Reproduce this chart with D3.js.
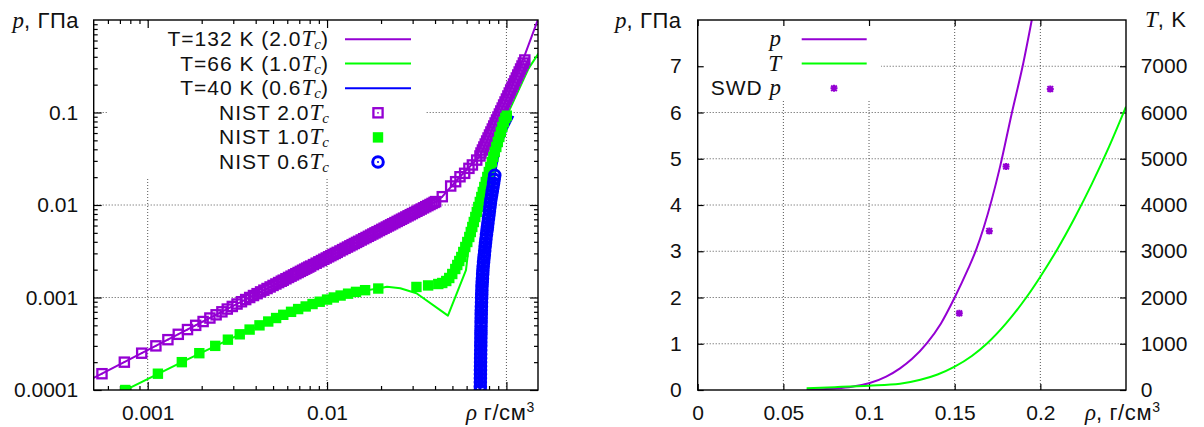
<!DOCTYPE html>
<html><head><meta charset="utf-8">
<script src="https://cdn.jsdelivr.net/npm/d3@7"></script>
<style>
body{margin:0;background:#fff}
svg{display:block}
text{font-family:"Liberation Sans",Arial,sans-serif;font-size:21px;fill:#111}
.leg{font-size:21px;letter-spacing:1px}
.mi{font-family:"Liberation Serif",serif;font-style:italic;font-size:23px;letter-spacing:0}
.sub{font-family:"Liberation Serif",serif;font-style:italic;font-size:15px;letter-spacing:0}
.sup{font-size:14px}
.ttl{font-size:22px;letter-spacing:0.6px}
</style>
</head><body><script>
// ---------------- LEFT PANEL DATA (log-log) ----------------
const xDomainLeft = [0.0005, 0.15];
const yDomainLeft = [1e-4, 1];
const xMajorLeft = [0.001, 0.01, 0.1];
const xMajorLabelsLeft = ["0.001", "0.01", ""];
const yMajorLeft = [1e-4, 1e-3, 1e-2, 1e-1];
const yMajorLabelsLeft = ["0.0001", "0.001", "0.01", "0.1"];

// model curves
const rhoModel132 = [0.0005, 0.0403, 0.0439, 0.0551, 0.0712, 0.0881, 0.1, 0.1267, 0.1496];
const pModel132   = [0.000135, 0.01088, 0.0123, 0.0202, 0.0339, 0.083, 0.14, 0.42, 1.0];
const rhoModel66 = [0.0007, 0.00155, 0.00326, 0.0052, 0.0076, 0.0109, 0.0145, 0.0193, 0.0216, 0.0256, 0.0315, 0.0472, 0.0595, 0.0629, 0.0697, 0.0813, 0.0949, 0.1005, 0.133, 0.1512];
const pModel66   = [0.0000933, 0.0002, 0.0004, 0.0006, 0.0008, 0.001, 0.00115, 0.00125, 0.00131, 0.00126, 0.00111, 0.000636, 0.00198, 0.00498, 0.0095, 0.0258, 0.0697, 0.0924, 0.30, 0.436];
const rhoModel40 = [0.0715, 0.0724, 0.0745, 0.0794, 0.0861, 0.0913, 0.0999, 0.1093];
const pModel40   = [0.00009, 0.00073, 0.0024, 0.0078, 0.021, 0.0393, 0.0647, 0.0917];

// NIST points
const rhoNist132 = [0.000556,0.000741,0.000926,0.001111,0.001296,0.001481,0.001667,0.001852,0.002037,0.002222,0.002407,0.002593,0.002778,0.002963,0.003148,0.003333,0.003519,0.003704,0.003889,0.004074,0.004259,0.004444,0.00463,0.004815,0.005,0.005185,0.00537,0.005556,
0.0057,0.0059,0.0061,0.0063,0.0065,0.0067,0.0069,0.0071,0.0073,0.0075,0.0077,0.0079,0.0081,0.0084,0.0087,0.009,0.0093,0.0096,0.0099,0.0102,0.0105,0.0108,0.0111,0.0114,0.0118,0.0122,0.0126,0.013,0.0134,0.0138,0.0142,0.0146,0.015,0.0155,0.016,0.0165,0.017,0.0175,0.018,0.0185,0.019,0.0196,0.0202,0.0208,0.0214,0.022,0.0226,0.0232,0.0239,0.0246,0.0253,0.026,0.0267,0.0275,0.0283,0.0291,0.0299,0.0308,0.0317,0.0326,0.0335,0.0345,0.0355,0.0365,0.0375,0.0385,0.0395,0.0403,
0.0439,0.0489,0.0521,0.0551,0.0585,0.0618,0.0646,0.0683,0.0712,
0.07216,0.07349,0.07484,0.0762,0.0776,0.07902,0.08047,0.08194,0.08345,0.08496,0.08652,0.0881,0.08972,0.09137,0.09305,0.09474,0.09647,0.09824,0.1,0.1019,0.10375,0.10563,0.10757,0.10954,0.11155,0.1136,0.1157,0.1178,0.11995,0.12214,0.12438,0.12666];
const pNist132 = [0.00015,0.0002,0.00025,0.0003,0.00035,0.0004,0.00045,0.0005,0.00055,0.0006,0.00065,0.0007,0.00075,0.0008,0.00085,0.0009,0.00095,0.001,0.00105,0.0011,0.00115,0.0012,0.00125,0.0013,0.00135,0.0014,0.00145,0.0015,
0.001539,0.001593,0.001647,0.001701,0.001755,0.001809,0.001863,0.001917,0.001971,0.002025,0.002079,0.002133,0.002187,0.002268,0.002349,0.00243,0.002511,0.002592,0.002673,0.002754,0.002835,0.002916,0.002997,0.003078,0.003186,0.003294,0.003402,0.00351,0.003618,0.003726,0.003834,0.003942,0.00405,0.004185,0.00432,0.004455,0.00459,0.004725,0.00486,0.004995,0.00513,0.005292,0.005454,0.005616,0.005778,0.00594,0.006102,0.006264,0.006453,0.006642,0.006831,0.00702,0.007209,0.007425,0.007641,0.007857,0.008073,0.008316,0.008559,0.008802,0.009045,0.009315,0.009585,0.009855,0.010125,0.010395,0.010665,0.010881,
0.0123,0.01605,0.01786,0.0202,0.022,0.0249,0.0271,0.0306,0.0339,
0.03648,0.03932,0.04236,0.04564,0.04918,0.05301,0.05711,0.06155,0.06632,0.07145,0.07701,0.08297,0.08939,0.09634,0.1038,0.1118,0.1205,0.1299,0.1399,0.1508,0.1625,0.1751,0.1887,0.2033,0.2191,0.236,0.2543,0.2741,0.2953,0.3182,0.3428,0.3695];

const rhoNist66 = [0.00075,0.00114,0.00155,0.00194,0.00238,0.0028,0.00326,0.0037,0.0042,0.0047,0.0052,0.0057,0.0063,0.0069,0.0076,0.0083,0.0091,0.01,0.0109,0.0119,0.0131,0.0145,0.0163,0.0193,
0.0315,0.0366,
0.04169,0.04388,0.04619,0.04801,0.04989,0.05186,0.05321,0.0546,0.05602,0.05748,0.05898,0.06051,0.06209,0.06329,0.06452,0.06578,0.06706,0.06836,0.06969,0.07105,0.07243,0.07384,0.07528,0.07674,0.07824,0.07976,0.08131,0.08289,0.08451,0.08615,0.08783,0.08954,0.09129,0.09307,0.09488,0.09672,0.0986,0.1005];
const pNist66 = [0.0001,0.00015,0.0002,0.00025,0.0003,0.00035,0.0004,0.00045,0.0005,0.00055,0.0006,0.00065,0.0007,0.00075,0.0008,0.00085,0.0009,0.00095,0.001,0.00105,0.0011,0.00115,0.0012,0.00125,
0.0013,0.00135,
0.001399,0.001435,0.001508,0.001625,0.001795,0.002033,0.002246,0.002481,0.002741,0.003104,0.003515,0.003981,0.004509,0.005106,0.005783,0.006549,0.007418,0.0084,0.009515,0.01078,0.0122,0.01382,0.01565,0.01773,0.02008,0.02274,0.02575,0.02917,0.03303,0.03741,0.04236,0.04798,0.05434,0.06155,0.06969,0.07894,0.08718,0.09235];

const rhoNist40 = [0.0715,0.07154,0.07157,0.07161,0.07165,0.07168,0.07172,0.07176,0.0718,0.07184,0.0719,0.07194,0.07199,0.07204,0.07209,0.07213,0.0722,0.07225,0.07231,0.07236,0.07242,0.07252,0.07264,0.07275,0.07285,0.07297,0.07308,0.0733,0.0735,0.07373,0.07393,0.0742,0.07457,0.07494,0.0753,0.07568,0.07608,0.07646,0.07688,0.07742,0.07792,0.07837,0.07888,0.0794,0.07989,0.08039,0.0809,0.08142,0.08199,0.0827,0.08339,0.08412,0.08479,0.08545,0.08611];
const pNist40 = [0.0001,0.00011,0.000122,0.000135,0.000149,0.000165,0.000182,0.000201,0.000222,0.000245,0.000271,0.0003,0.00033,0.000365,0.0004,0.00044,0.00049,0.00054,0.0006,0.00066,0.00073,0.0008,0.00089,0.00098,0.00108,0.0012,0.00132,0.00146,0.0016,0.00178,0.00196,0.00216,0.0024,0.00265,0.0029,0.0032,0.00355,0.0039,0.0043,0.0048,0.0053,0.0058,0.0064,0.0071,0.0078,0.0086,0.0095,0.0105,0.0116,0.0128,0.0141,0.0156,0.0172,0.019,0.021];

const legendLeft = [
  ["T=132 K (2.0", "T", "c", ")"],
  ["T=66 K (1.0", "T", "c", ")"],
  ["T=40 K (0.6", "T", "c", ")"],
  ["NIST 2.0", "T", "c", ""],
  ["NIST 1.0", "T", "c", ""],
  ["NIST 0.6", "T", "c", ""]
];

// ---------------- RIGHT PANEL DATA (linear) ----------------
const xDomainRight = [0, 0.25];
const yDomainRight = [0, 8];
const y2DomainRight = [0, 8000];
const xTicksRight = [0, 0.05, 0.1, 0.15, 0.2];
const xTickLabelsRight = ["0", "0.05", "0.1", "0.15", "0.2"];
const yTicksRight = [0, 1, 2, 3, 4, 5, 6, 7];
const y2TicksRight = [0, 1000, 2000, 3000, 4000, 5000, 6000, 7000];

const rhoPressure = [0.0636, 0.08, 0.09, 0.1, 0.11, 0.1181, 0.125, 0.1337, 0.142, 0.15, 0.1575, 0.1625, 0.167, 0.1765, 0.1833, 0.19, 0.195];
const pressure    = [0.006, 0.035, 0.072, 0.145, 0.29, 0.469, 0.67, 1.01, 1.44, 2.0, 2.59, 3.03, 3.52, 4.83, 5.98, 7.06, 8.0];
const rhoTemp = [0.0636, 0.08, 0.1, 0.1181, 0.13, 0.14, 0.15, 0.16, 0.1687, 0.18, 0.192, 0.2, 0.21, 0.22, 0.23, 0.24, 0.25];
const temp    = [40, 62, 93, 135, 220, 335, 504, 735, 1000, 1440, 2010, 2450, 3050, 3720, 4450, 5250, 6125];
const rhoSwd = [0.1527, 0.1702, 0.18, 0.2058];
const pSwd   = [1.66, 3.44, 4.83, 6.51];
const legendRight = [["", "p", "", ""], ["", "T", "", ""], ["SWD ", "p", "", ""]];

// ---------------- COLOURS ----------------
const cPurple = "#9400d3", cGreen = "#00ff00", cBlue = "#0000ff";

// ---------------- DRAWING ----------------
const svg = d3.select("body").append("svg").attr("width", 1204).attr("height", 427);
svg.append("rect").attr("width", 1204).attr("height", 427).attr("fill", "#fff");

const L = {x0: 93.7, x1: 538, y0: 20, y1: 390};
const R = {x0: 697.7, x1: 1126, y0: 20, y1: 390};

const xL = d3.scaleLog().domain(xDomainLeft).range([L.x0, L.x1]);
const yL = d3.scaleLog().domain(yDomainLeft).range([L.y1, L.y0]);
const xR = d3.scaleLinear().domain(xDomainRight).range([R.x0, R.x1]);
const yR = d3.scaleLinear().domain(yDomainRight).range([R.y1, R.y0]);
const yT = d3.scaleLinear().domain(y2DomainRight).range([R.y1, R.y0]);

const defs = svg.append("defs");
defs.append("clipPath").attr("id", "clipL").append("rect").attr("x", L.x0).attr("y", L.y0).attr("width", L.x1 - L.x0).attr("height", L.y1 - L.y0);
defs.append("clipPath").attr("id", "clipR").append("rect").attr("x", R.x0).attr("y", R.y0).attr("width", R.x1 - R.x0).attr("height", R.y1 - R.y0);

const isDecade = v => Math.abs(Math.log10(v) - Math.round(Math.log10(v))) < 1e-6;

function grid(g, xs, ys, xs2, ys2, P) {
  const st = s => s.attr("stroke", "#555").attr("stroke-width", 1).attr("stroke-dasharray", "1,2");
  g.selectAll(".gx").data(xs).enter().append("line").attr("x1", xs2).attr("x2", xs2).attr("y1", P.y0).attr("y2", P.y1).call(st);
  g.selectAll(".gy").data(ys).enter().append("line").attr("y1", ys2).attr("y2", ys2).attr("x1", P.x0).attr("x2", P.x1).call(st);
}
function clean(g) { g.select(".domain").remove(); g.selectAll("line").attr("stroke", "#000").attr("stroke-width", 1.2); }

// ---- left grid
grid(svg.append("g"), [0.001, 0.01, 0.1], [1e-3, 1e-2, 1e-1], d => xL(d), d => yL(d), L);
svg.append("rect").attr("x", 108).attr("y", 21).attr("width", 318).attr("height", 156).attr("fill", "#fff");

// ---- right grid
grid(svg.append("g"), [0.05, 0.1, 0.15, 0.2], [1, 2, 3, 4, 5, 6, 7], d => xR(d), d => yR(d), R);
svg.append("rect").attr("x", 699).attr("y", 21).attr("width", 182).attr("height", 80).attr("fill", "#fff");

// ---- left axes
const xMinorL = xL.ticks().filter(v => !isDecade(v) && v > xDomainLeft[0] * 1.001 && v < xDomainLeft[1] * 0.999);
const yMinorL = yL.ticks().filter(v => !isDecade(v));
svg.append("g").attr("transform", `translate(0,${L.y1})`)
  .call(d3.axisBottom(xL).tickValues(xMajorLeft).tickSize(-8).tickPadding(15).tickFormat((d, i) => xMajorLabelsLeft[i])).call(clean);
svg.append("g").attr("transform", `translate(0,${L.y1})`)
  .call(d3.axisBottom(xL).tickValues(xMinorL).tickSize(-4).tickFormat("")).call(clean);
svg.append("g").attr("transform", `translate(0,${L.y0})`)
  .call(d3.axisTop(xL).tickValues(xMajorLeft).tickSize(-8).tickFormat("")).call(clean);
svg.append("g").attr("transform", `translate(0,${L.y0})`)
  .call(d3.axisTop(xL).tickValues(xMinorL).tickSize(-4).tickFormat("")).call(clean);
svg.append("g").attr("transform", `translate(${L.x0},0)`)
  .call(d3.axisLeft(yL).tickValues(yMajorLeft).tickSize(-8).tickPadding(15.5).tickFormat((d, i) => yMajorLabelsLeft[i])).call(clean);
svg.append("g").attr("transform", `translate(${L.x0},0)`)
  .call(d3.axisLeft(yL).tickValues(yMinorL).tickSize(-4).tickFormat("")).call(clean);
svg.append("g").attr("transform", `translate(${L.x1},0)`)
  .call(d3.axisRight(yL).tickValues(yMajorLeft).tickSize(-8).tickFormat("")).call(clean);
svg.append("g").attr("transform", `translate(${L.x1},0)`)
  .call(d3.axisRight(yL).tickValues(yMinorL).tickSize(-4).tickFormat("")).call(clean);

// ---- right axes
svg.append("g").attr("transform", `translate(0,${R.y1})`)
  .call(d3.axisBottom(xR).tickValues(xTicksRight).tickSize(-6).tickPadding(15).tickFormat((d, i) => xTickLabelsRight[i])).call(clean);
svg.append("g").attr("transform", `translate(0,${R.y0})`)
  .call(d3.axisTop(xR).tickValues(xTicksRight).tickSize(-6).tickFormat("")).call(clean);
svg.append("g").attr("transform", `translate(${R.x0},0)`)
  .call(d3.axisLeft(yR).tickValues(yTicksRight).tickSize(-6).tickPadding(16).tickFormat(d3.format("d"))).call(clean);
svg.append("g").attr("transform", `translate(${R.x1},0)`)
  .call(d3.axisRight(yT).tickValues(y2TicksRight).tickSize(-6).tickPadding(14.7).tickFormat(d3.format("d"))).call(clean);

// ---- left data
const gL = svg.append("g").attr("clip-path", "url(#clipL)");
const lineL = d3.line().x(d => xL(d[0])).y(d => yL(d[1]));
[[rhoModel132, pModel132, cPurple], [rhoModel66, pModel66, cGreen], [rhoModel40, pModel40, cBlue]].forEach(([r, p, c]) => {
  gL.append("path").datum(d3.zip(r, p)).attr("d", lineL).attr("fill", "none").attr("stroke", c).attr("stroke-width", 2).attr("stroke-linejoin", "round");
});

function openSquare(g, x, y, c) {
  g.append("rect").attr("x", x - 4.6).attr("y", y - 4.6).attr("width", 9.2).attr("height", 9.2).attr("fill", "none").attr("stroke", c).attr("stroke-width", 2.3);
  g.append("circle").attr("cx", x).attr("cy", y).attr("r", 0.9).attr("fill", c);
}
function filledSquare(g, x, y, c) {
  g.append("rect").attr("x", x - 5.2).attr("y", y - 5.2).attr("width", 10.4).attr("height", 10.4).attr("fill", c);
}
function openCircle(g, x, y, c) {
  g.append("circle").attr("cx", x).attr("cy", y).attr("r", 5.3).attr("fill", "none").attr("stroke", c).attr("stroke-width", 3);
  g.append("circle").attr("cx", x).attr("cy", y).attr("r", 1).attr("fill", c);
}
function asterisk(g, x, y, c) {
  g.append("path").attr("d", `M${x - 3.5},${y}H${x + 3.5}M${x},${y - 3.5}V${y + 3.5}M${x - 2.8},${y - 2.8}L${x + 2.8},${y + 2.8}M${x - 2.8},${y + 2.8}L${x + 2.8},${y - 2.8}`)
    .attr("stroke", c).attr("stroke-width", 2).attr("fill", "none");
}

d3.zip(rhoNist132, pNist132).forEach(d => openSquare(gL, xL(d[0]), yL(d[1]), cPurple));
d3.zip(rhoNist66, pNist66).forEach(d => filledSquare(gL, xL(d[0]), yL(d[1]), cGreen));
d3.zip(rhoNist40, pNist40).forEach(d => openCircle(gL, xL(d[0]), yL(d[1]), cBlue));

// ---- right data
const gR = svg.append("g").attr("clip-path", "url(#clipR)");
gR.append("path").datum(d3.zip(rhoPressure, pressure)).attr("d", d3.line().curve(d3.curveMonotoneX).x(d => xR(d[0])).y(d => yR(d[1])))
  .attr("fill", "none").attr("stroke", cPurple).attr("stroke-width", 2);
gR.append("path").datum(d3.zip(rhoTemp, temp)).attr("d", d3.line().curve(d3.curveMonotoneX).x(d => xR(d[0])).y(d => yT(d[1])))
  .attr("fill", "none").attr("stroke", cGreen).attr("stroke-width", 2);
d3.zip(rhoSwd, pSwd).forEach(d => asterisk(gR, xR(d[0]), yR(d[1]), cPurple));

// ---- frames
svg.append("rect").attr("x", L.x0).attr("y", L.y0).attr("width", L.x1 - L.x0).attr("height", L.y1 - L.y0).attr("fill", "none").attr("stroke", "#000").attr("stroke-width", 1.4);
svg.append("rect").attr("x", R.x0).attr("y", R.y0).attr("width", R.x1 - R.x0).attr("height", R.y1 - R.y0).attr("fill", "none").attr("stroke", "#000").attr("stroke-width", 1.4);

// ---- legends
function legendText(x, y, parts) {
  const t = svg.append("text").attr("class", "leg").attr("x", x).attr("y", y).attr("text-anchor", "end");
  if (parts[0]) t.append("tspan").text(parts[0]);
  if (parts[1]) t.append("tspan").attr("class", "mi").text(parts[1]);
  if (parts[2]) t.append("tspan").attr("class", "sub").attr("dy", 3).text(parts[2]);
  if (parts[3]) t.append("tspan").attr("dy", parts[2] ? -3 : 0).text(parts[3]);
}
const rowsL = [39.3, 63.6, 88.2, 112.8, 137.4, 162];
legendLeft.forEach((parts, i) => legendText(329, rowsL[i] + 7, parts));
[cPurple, cGreen, cBlue].forEach((c, i) => {
  svg.append("line").attr("x1", 345).attr("x2", 411).attr("y1", rowsL[i]).attr("y2", rowsL[i]).attr("stroke", c).attr("stroke-width", 2);
});
openSquare(svg, 378, rowsL[3], cPurple);
filledSquare(svg, 378, rowsL[4], cGreen);
openCircle(svg, 378, rowsL[5], cBlue);

const rowsR = [39.3, 63.5, 88.3];
legendRight.forEach((parts, i) => legendText(781, rowsR[i] + 7, parts));
svg.append("line").attr("x1", 801.7).attr("x2", 866.7).attr("y1", rowsR[0]).attr("y2", rowsR[0]).attr("stroke", cPurple).attr("stroke-width", 2);
svg.append("line").attr("x1", 801.7).attr("x2", 866.7).attr("y1", rowsR[1]).attr("y2", rowsR[1]).attr("stroke", cGreen).attr("stroke-width", 2);
asterisk(svg, 834, rowsR[2], cPurple);

// ---- axis titles
function title(x, y, italicPart, rest, sup) {
  const t = svg.append("text").attr("class", "ttl").attr("x", x).attr("y", y);
  t.append("tspan").attr("class", "mi").text(italicPart);
  t.append("tspan").text(rest);
  if (sup) t.append("tspan").attr("class", "sup").attr("dy", -8).text(sup);
}
title(12.5, 27.5, "p", ", ГПа");
title(615, 27.5, "p", ", ГПа");
title(1145, 27, "T", ", K");
title(466, 420, "ρ", "  г/см", "3");
title(1085, 420, "ρ", ", г/см", "3");
</script></body></html>
